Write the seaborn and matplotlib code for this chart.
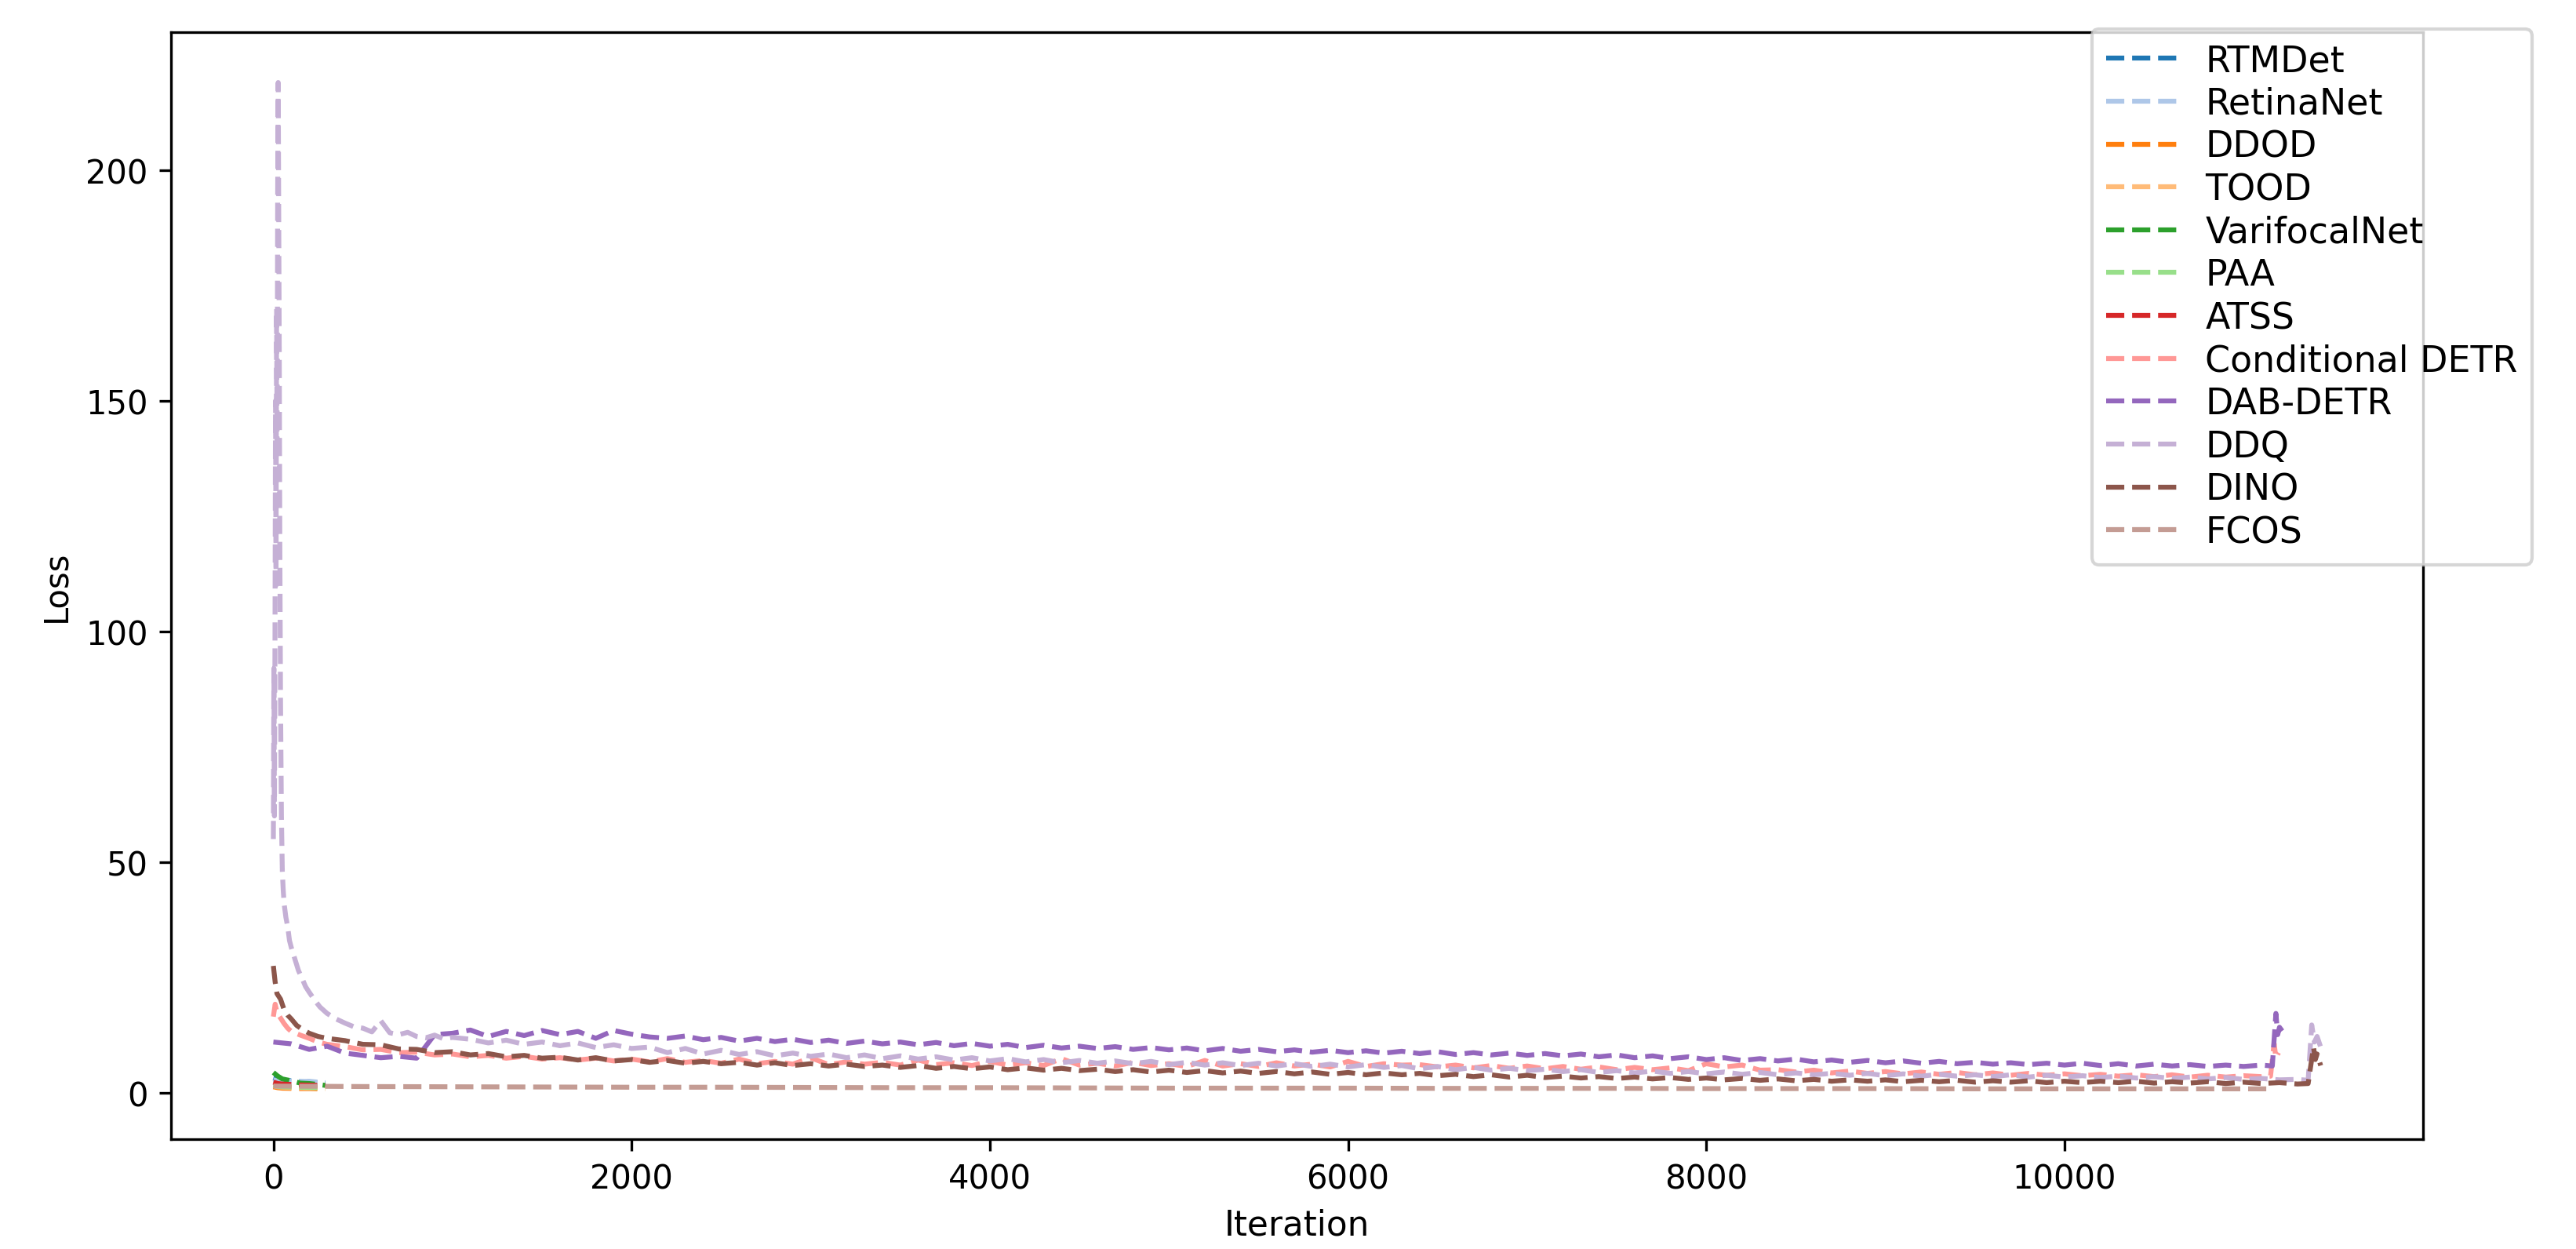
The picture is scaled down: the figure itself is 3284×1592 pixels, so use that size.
import numpy as np
import pandas as pd
import matplotlib
matplotlib.use("Agg")
import matplotlib.pyplot as plt
import seaborn as sns

# ---------------- data ----------------
models = ["RTMDet", "RetinaNet", "DDOD", "TOOD", "VarifocalNet", "PAA", "ATSS",
          "Conditional DETR", "DAB-DETR", "DDQ", "DINO", "FCOS"]
colors = ["#1f77b4", "#aec7e8", "#ff7f0e", "#ffbb78", "#2ca02c", "#98df8a",
          "#d62728", "#ff9896", "#9467bd", "#c5b0d5", "#8c564b", "#c49c94"]

short_iters = [0, 25, 50, 100, 150, 200, 250, 290]
rtmdet = [3.2, 2.9, 2.7, 2.6, 2.4, 2.3, 2.2, 2.1]
retinanet = [2.8, 2.6, 2.5, 2.5, 2.4, 2.5, 2.3, 2.2]
ddod = [1.3, 1.1, 1.0, 0.95, 0.9, 0.9, 0.85, 0.85]
tood = [1.5, 1.3, 1.2, 1.1, 1.05, 1.0, 1.0, 0.95]
varifocal = [4.4, 3.6, 3.0, 2.6, 2.1, 2.0, 1.8, 1.6]
paa = [1.6, 1.4, 1.3, 1.25, 1.2, 1.15, 1.1, 1.1]
atss = [2.3, 2.0, 1.9, 1.8, 1.7, 1.65, 1.6, 1.6]

# Conditional DETR
cdetr_early_iters = [0, 10, 20, 40, 60, 80, 100, 150, 200, 250, 300]
cdetr_early = [16.5, 19.2, 17.4, 16.2, 15.0, 14.0, 13.3, 12.5, 11.8, 11.0, 10.5]
cdetr_main = [10.0, 9.3, 9.4, 8.7, 8.8, 8.2, 8.4, 7.8, 8.1, 7.5,
              7.9, 7.3, 7.6, 7.1, 7.5, 6.9, 7.3, 6.7, 7.4, 6.6,
              7.0, 6.4, 7.3, 6.3, 6.8, 6.2, 7.6, 6.1, 6.7, 6.2,
              6.6, 6.0, 7.1, 6.1, 6.5, 5.9, 6.8, 6.0, 6.5, 5.9,
              7.4, 6.0, 6.4, 5.8, 6.6, 5.9, 6.3, 5.7, 7.0, 5.8,
              6.3, 5.7, 6.5, 5.8, 6.2, 5.6, 6.8, 5.7, 6.3, 6.0,
              6.1, 5.6, 6.0, 5.4, 5.9, 5.3, 5.8, 5.2, 5.7, 5.1,
              5.6, 5.0, 5.5, 5.0, 5.4, 4.8, 6.3, 5.6, 6.0, 4.9,
              5.0, 4.5, 4.9, 4.3, 4.7, 4.2, 4.6, 4.1, 4.5, 4.0,
              4.4, 3.9, 4.3, 3.8, 4.2, 3.8, 4.1, 3.7, 4.0, 3.6,
              3.9, 3.5, 3.9, 3.4, 3.8, 3.4, 3.7, 3.5]  # 400 .. 11100 step 100
cdetr_tail_iters = [11150, 11170, 11180, 11195]
cdetr_tail = [3.6, 10.7, 7.6, 8.7]

# DAB-DETR
dab_main = [11.0, 10.6, 9.4, 10.1, 8.6, 8.1, 7.6, 7.9, 7.5, 12.6,
            12.9, 13.6, 12.2, 13.3, 12.4, 13.5, 12.6, 13.3, 11.8, 13.5,
            12.7, 12.1, 11.8, 12.3, 11.5, 12.0, 11.2, 11.8, 11.1, 11.6,
            10.9, 11.4, 10.7, 11.2, 10.6, 11.0, 10.4, 10.9, 10.2, 10.7,
            10.1, 10.5, 9.8, 10.3, 9.7, 10.1, 9.6, 10.0, 9.4, 9.8,
            9.3, 9.7, 9.1, 9.6, 9.0, 9.4, 8.9, 9.3, 8.8, 9.2,
            8.7, 9.1, 8.6, 9.0, 8.5, 8.9, 8.3, 8.7, 8.2, 8.6,
            8.1, 8.5, 8.0, 8.4, 7.8, 8.2, 7.6, 8.0, 7.4, 7.8,
            7.2, 7.6, 7.0, 7.4, 6.9, 7.3, 6.7, 7.1, 6.6, 7.0,
            6.5, 6.9, 6.4, 6.8, 6.3, 6.6, 6.2, 6.5, 6.1, 6.4,
            6.0, 6.4, 5.9, 6.3, 5.8, 6.2, 5.8, 6.1, 5.7, 6.0,
            5.7, 6.0]  # 0 .. 11100 step 100
dab_tail_iters = [11160, 11180, 11190, 11200, 11215]
dab_tail = [5.8, 17.2, 12.6, 14.2, 13.4]

# DDQ
ddq_early_iters = [0, 3, 6, 9, 12, 15, 18, 21, 24, 27, 30, 33, 36, 40, 45, 50, 55, 60,
                   70, 80, 90, 100, 120, 140, 160, 180, 200, 230, 260, 300, 350, 400,
                   450, 500, 550, 600, 650, 700, 750, 800, 850, 900, 950, 1000]
ddq_early = [55, 92, 60, 98, 150, 110, 170, 140, 195, 219, 190, 160, 120, 85, 60, 48, 44, 41,
             38, 36, 33, 31.5, 29, 26.5, 24.8, 23, 21.8, 20.1, 18.6, 17.2, 16.0, 15.1,
             14.3, 14.0, 13.2, 15.6, 13.0, 12.6, 13.1, 12.2, 11.9, 12.5, 11.7, 12.0]
ddq_main = [11.6, 10.8, 11.4, 10.5, 11.0, 10.2, 10.8, 9.8, 10.4, 9.6,
            9.9, 8.7, 9.6, 8.4, 9.2, 8.3, 8.9, 8.0, 8.6, 7.9,
            8.4, 7.6, 8.2, 7.4, 8.0, 7.3, 7.8, 7.1, 7.6, 6.9,
            7.4, 6.7, 7.2, 6.5, 7.0, 6.4, 6.9, 6.3, 6.8, 6.1,
            6.6, 6.0, 6.5, 5.9, 6.4, 5.8, 6.3, 5.7, 6.2, 5.6,
            6.1, 5.5, 5.9, 5.2, 5.7, 5.0, 5.5, 4.9, 5.3, 4.8,
            5.1, 4.6, 5.0, 4.4, 4.8, 4.3, 4.7, 4.2, 4.6, 4.1,
            4.5, 4.0, 4.4, 3.9, 4.3, 3.9, 4.2, 3.8, 4.2, 3.7,
            4.1, 3.6, 4.0, 3.6, 3.9, 3.5, 3.9, 3.4, 3.8, 3.4,
            3.7, 3.3, 3.6, 3.2, 3.5, 3.1, 3.4, 3.0, 3.3, 2.9,
            3.1, 2.8, 2.9]  # 1100 .. 11300 step 100
ddq_tail_iters = [11360, 11380, 11395, 11410, 11430]
ddq_tail = [2.7, 14.7, 11.0, 12.2, 9.9]

# DINO
dino_early_iters = [0, 10, 20, 40, 60, 80, 100, 130, 160, 200, 250, 300]
dino_early = [27.5, 24.0, 21.5, 20.3, 18.0, 16.8, 16.0, 14.6, 13.8, 12.9, 12.2, 11.8]
dino_main = [11.3, 10.5, 10.4, 9.5, 9.4, 8.7, 8.9, 8.2, 8.5, 7.8,
             8.1, 7.5, 7.7, 7.1, 7.6, 6.9, 7.2, 6.6, 7.0, 6.4,
             6.8, 6.3, 6.6, 6.0, 6.5, 5.9, 6.3, 5.8, 6.2, 5.7,
             6.0, 5.5, 5.9, 5.3, 5.7, 5.2, 5.6, 5.0, 5.4, 4.9,
             5.3, 4.8, 5.1, 4.6, 5.0, 4.5, 4.9, 4.4, 4.8, 4.3,
             4.7, 4.2, 4.6, 4.1, 4.5, 4.0, 4.4, 3.9, 4.3, 3.9,
             4.2, 3.7, 4.0, 3.5, 3.9, 3.4, 3.8, 3.3, 3.6, 3.2,
             3.5, 3.1, 3.4, 3.0, 3.3, 2.9, 3.2, 2.8, 3.1, 2.7,
             3.0, 2.6, 2.9, 2.5, 2.8, 2.5, 2.8, 2.4, 2.7, 2.4,
             2.7, 2.3, 2.6, 2.3, 2.6, 2.2, 2.5, 2.2, 2.5, 2.2,
             2.5, 2.1, 2.4, 2.1, 2.4, 2.0, 2.3, 2.0, 2.2, 1.9]  # 400 .. 11300 step 100
dino_tail_iters = [11360, 11390, 11400, 11410, 11430]
dino_tail = [2.0, 9.9, 7.2, 8.4, 5.9]

# FCOS
fcos_iters = [0, 500, 1000, 1500, 2000, 2500, 3000, 3500, 4000, 4500, 5000, 5500,
              6000, 6500, 7000, 7500, 8000, 8500, 9000, 9500, 10000, 10500, 11000, 11150]
fcos = [1.45, 1.35, 1.3, 1.25, 1.2, 1.2, 1.15, 1.1, 1.1, 1.05, 1.0, 1.0,
        1.0, 0.95, 0.95, 0.95, 0.9, 0.9, 0.9, 0.85, 0.85, 0.85, 0.85, 0.85]

# ---------------- assemble series ----------------
series = {
    "RTMDet": (short_iters, rtmdet),
    "RetinaNet": (short_iters, retinanet),
    "DDOD": (short_iters, ddod),
    "TOOD": (short_iters, tood),
    "VarifocalNet": (short_iters, varifocal),
    "PAA": (short_iters, paa),
    "ATSS": (short_iters, atss),
    "Conditional DETR": (cdetr_early_iters + list(range(400, 11101, 100)) + cdetr_tail_iters,
                         cdetr_early + cdetr_main + cdetr_tail),
    "DAB-DETR": (list(range(0, 11101, 100)) + dab_tail_iters, dab_main + dab_tail),
    "DDQ": (ddq_early_iters + list(range(1100, 11301, 100)) + ddq_tail_iters,
            ddq_early + ddq_main + ddq_tail),
    "DINO": (dino_early_iters + list(range(400, 11301, 100)) + dino_tail_iters,
             dino_early + dino_main + dino_tail),
    "FCOS": (fcos_iters, fcos),
}

# ---------------- plot ----------------
W, H, DPI = 3284, 1593, 300
fig = plt.figure(figsize=(W / DPI, H / DPI), dpi=DPI)
ax = fig.add_axes([218 / W, 1 - 1453 / H, (3089 - 218) / W, (1453 - 42) / H])

for name, col in zip(models, colors):
    xs, ys = series[name]
    df = pd.DataFrame({"Iteration": xs, "Loss": ys})
    sns.lineplot(data=df, x="Iteration", y="Loss", color=col, linestyle="--",
                 linewidth=1.5, label=name, ax=ax, errorbar=None, sort=False)

ax.set_xticks([0, 2000, 4000, 6000, 8000, 10000])
ax.set_yticks([0, 50, 100, 150, 200])
ax.tick_params(labelsize=10)
ax.set_xlabel("Iteration", fontsize=10.5)
ax.set_ylabel("Loss", fontsize=10)

ax.legend(loc="upper right", bbox_to_anchor=(3228 / W, 1 - 38 / H),
          bbox_transform=fig.transFigure, borderaxespad=0, fontsize=11,
          labelspacing=0.21, handlelength=2.0, handletextpad=0.75, borderpad=0.4)

fig.savefig("out.png", dpi=DPI)
